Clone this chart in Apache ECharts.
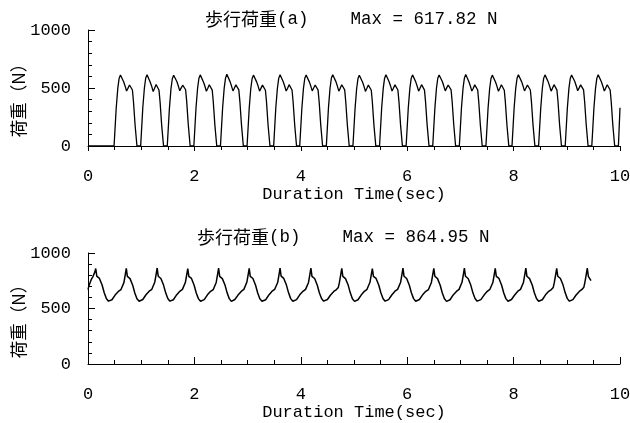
<!DOCTYPE html>
<html>
<head>
<meta charset="utf-8">
<script src="https://cdn.jsdelivr.net/npm/echarts@6/dist/echarts.min.js"></script>
<style>
  html, body { margin: 0; padding: 0; background: #fff; }
  #chart { width: 630px; height: 423px; }
</style>
</head>
<body>
<div id="chart"></div>
<script>
// Titles and axis text
const titleA = '歩行荷重';
const tagA = '(a)    Max = 617.82 N';
const titleB = '歩行荷重';
const tagB = '(b)    Max = 864.95 N';
const xAxisName = 'Duration Time(sec)';
const yAxisName = '荷重（N）';
const xTicks = [0, 2, 4, 6, 8, 10];
const yTicks = [0, 500, 1000];

// Walking load (a): single-foot contact force [time s, load N]
const loadA = [
  [0, 0],
  [0.49, 0], [0.53, 325], [0.56, 497], [0.585, 583], [0.61, 612], [0.645, 601], [0.67, 554], [0.695, 520], [0.725, 474], [0.75, 497], [0.78, 526], [0.81, 532], [0.835, 483], [0.855, 382], [0.885, 181], [0.92, 0],
  [0.99, 0], [1.03, 330], [1.06, 500], [1.085, 586], [1.11, 615], [1.145, 598], [1.17, 550], [1.195, 518], [1.225, 470], [1.25, 495], [1.28, 530], [1.31, 535], [1.335, 480], [1.355, 378], [1.385, 178], [1.42, 0],
  [1.49, 0], [1.53, 322], [1.56, 495], [1.585, 580], [1.61, 610], [1.645, 603], [1.67, 556], [1.695, 522], [1.725, 476], [1.75, 499], [1.78, 524], [1.81, 530], [1.835, 485], [1.855, 385], [1.885, 184], [1.92, 0],
  [1.99, 0], [2.03, 328], [2.06, 498], [2.085, 584], [2.11, 613], [2.145, 600], [2.17, 552], [2.195, 519], [2.225, 472], [2.25, 496], [2.28, 528], [2.31, 534], [2.335, 482], [2.355, 380], [2.385, 180], [2.42, 0],
  [2.49, 0], [2.53, 326], [2.56, 499], [2.585, 585], [2.61, 617.82], [2.645, 602], [2.67, 555], [2.695, 521], [2.725, 475], [2.75, 498], [2.78, 527], [2.81, 533], [2.835, 484], [2.855, 383], [2.885, 182], [2.92, 0],
  [2.99, 0], [3.03, 324], [3.06, 496], [3.085, 582], [3.11, 611], [3.145, 599], [3.17, 553], [3.195, 520], [3.225, 473], [3.25, 497], [3.28, 525], [3.31, 531], [3.335, 481], [3.355, 381], [3.385, 179], [3.42, 0],
  [3.49, 0], [3.53, 327], [3.56, 498], [3.585, 583], [3.61, 614], [3.645, 601], [3.67, 554], [3.695, 519], [3.725, 474], [3.75, 496], [3.78, 529], [3.81, 535], [3.835, 483], [3.855, 384], [3.885, 183], [3.92, 0],
  [3.98, 0], [4.02, 325], [4.05, 497], [4.075, 584], [4.10, 612], [4.135, 600], [4.16, 553], [4.185, 521], [4.215, 475], [4.24, 498], [4.27, 526], [4.30, 532], [4.325, 482], [4.345, 381], [4.375, 180], [4.41, 0],
  [4.48, 0], [4.52, 329], [4.55, 500], [4.575, 586], [4.60, 615], [4.635, 602], [4.66, 555], [4.685, 520], [4.715, 473], [4.74, 497], [4.77, 528], [4.80, 534], [4.825, 484], [4.845, 382], [4.875, 181], [4.91, 0],
  [4.98, 0], [5.02, 323], [5.05, 496], [5.075, 581], [5.10, 610], [5.135, 599], [5.16, 552], [5.185, 518], [5.215, 471], [5.24, 495], [5.27, 525], [5.30, 531], [5.325, 481], [5.345, 379], [5.375, 178], [5.41, 0],
  [5.48, 0], [5.52, 327], [5.55, 499], [5.575, 585], [5.60, 614], [5.635, 601], [5.66, 554], [5.685, 520], [5.715, 474], [5.74, 498], [5.77, 527], [5.80, 533], [5.825, 483], [5.845, 383], [5.875, 182], [5.91, 0],
  [5.98, 0], [6.02, 326], [6.05, 497], [6.075, 583], [6.10, 613], [6.135, 600], [6.16, 553], [6.185, 519], [6.215, 473], [6.24, 497], [6.27, 529], [6.30, 535], [6.325, 482], [6.345, 380], [6.375, 180], [6.41, 0],
  [6.48, 0], [6.52, 324], [6.55, 498], [6.575, 584], [6.60, 612], [6.635, 602], [6.66, 556], [6.685, 521], [6.715, 475], [6.74, 499], [6.77, 526], [6.80, 532], [6.825, 484], [6.845, 384], [6.875, 183], [6.91, 0],
  [6.98, 0], [7.02, 328], [7.05, 500], [7.075, 585], [7.10, 616], [7.135, 601], [7.16, 554], [7.185, 520], [7.215, 474], [7.24, 496], [7.27, 527], [7.30, 533], [7.325, 483], [7.345, 382], [7.375, 181], [7.41, 0],
  [7.48, 0], [7.52, 325], [7.55, 496], [7.575, 582], [7.60, 611], [7.635, 599], [7.66, 552], [7.685, 518], [7.715, 472], [7.74, 496], [7.77, 528], [7.80, 534], [7.825, 481], [7.845, 380], [7.875, 179], [7.91, 0],
  [7.97, 0], [8.01, 327], [8.04, 499], [8.065, 584], [8.09, 614], [8.125, 601], [8.15, 555], [8.175, 521], [8.205, 475], [8.23, 498], [8.26, 526], [8.29, 532], [8.315, 483], [8.335, 383], [8.365, 182], [8.40, 0],
  [8.47, 0], [8.51, 326], [8.54, 498], [8.565, 583], [8.59, 613], [8.625, 600], [8.65, 553], [8.675, 519], [8.705, 473], [8.73, 497], [8.76, 529], [8.79, 535], [8.815, 482], [8.835, 381], [8.865, 180], [8.90, 0],
  [8.97, 0], [9.01, 324], [9.04, 497], [9.065, 582], [9.09, 612], [9.125, 602], [9.15, 556], [9.175, 521], [9.205, 476], [9.23, 499], [9.26, 527], [9.29, 533], [9.315, 484], [9.335, 384], [9.365, 183], [9.40, 0],
  [9.47, 0], [9.51, 327], [9.54, 499], [9.565, 585], [9.59, 615], [9.625, 601], [9.65, 554], [9.675, 520], [9.705, 474], [9.73, 497], [9.76, 528], [9.79, 534], [9.815, 483], [9.835, 382], [9.865, 181], [9.90, 0],
  [9.97, 0], [10.0, 330]
];

// Walking load (b): overlapping footsteps [time s, load N]
const loadB = [
  [0, 670], [0.015, 700], [0.03, 690], [0.06, 760], [0.09, 785], [0.115, 800], [0.13, 830], [0.145, 860],
  [0.157, 822], [0.165, 792], [0.175, 803], [0.19, 782], [0.215, 771], [0.235, 760], [0.265, 712], [0.305, 642], [0.345, 590], [0.385, 566],
  [0.41, 564], [0.45, 579], [0.51, 621], [0.57, 654], [0.62, 671], [0.64, 681], [0.655, 689], [0.675, 733], [0.70, 803], [0.72, 862], [0.732, 818], [0.74, 789], [0.75, 801], [0.765, 779], [0.79, 769], [0.81, 758], [0.84, 709], [0.88, 639], [0.92, 588], [0.96, 565],
  [0.99, 567], [1.03, 581], [1.09, 624], [1.15, 656], [1.20, 673], [1.22, 683], [1.235, 691], [1.255, 737], [1.28, 806], [1.30, 864.95], [1.312, 821], [1.32, 791], [1.33, 802], [1.345, 781], [1.37, 770], [1.39, 760], [1.42, 711], [1.46, 641], [1.50, 590], [1.54, 566],
  [1.565, 565], [1.605, 579], [1.665, 622], [1.725, 655], [1.775, 672], [1.795, 681], [1.81, 690], [1.83, 734], [1.855, 804], [1.875, 860], [1.887, 819], [1.895, 790], [1.905, 800], [1.92, 780], [1.945, 771], [1.965, 759], [1.995, 710], [2.035, 640], [2.075, 589], [2.115, 565],
  [2.145, 566], [2.185, 580], [2.245, 623], [2.305, 655], [2.355, 671], [2.375, 682], [2.39, 689], [2.41, 735], [2.435, 805], [2.455, 863], [2.467, 820], [2.475, 789], [2.485, 801], [2.50, 780], [2.525, 769], [2.545, 759], [2.575, 712], [2.615, 641], [2.655, 589], [2.695, 564],
  [2.72, 565], [2.76, 581], [2.82, 621], [2.88, 654], [2.93, 672], [2.95, 681], [2.965, 690], [2.985, 736], [3.01, 803], [3.03, 861], [3.042, 818], [3.05, 790], [3.06, 800], [3.075, 779], [3.10, 770], [3.12, 758], [3.15, 709], [3.19, 640], [3.23, 588], [3.27, 565],
  [3.30, 566], [3.34, 579], [3.40, 622], [3.46, 656], [3.51, 673], [3.53, 682], [3.545, 691], [3.565, 734], [3.59, 804], [3.61, 863], [3.622, 821], [3.63, 791], [3.64, 802], [3.655, 781], [3.68, 771], [3.70, 760], [3.73, 711], [3.77, 641], [3.81, 589], [3.85, 565],
  [3.88, 564], [3.92, 580], [3.98, 623], [4.04, 655], [4.09, 672], [4.11, 682], [4.125, 689], [4.145, 735], [4.17, 805], [4.19, 864], [4.202, 820], [4.21, 790], [4.22, 800], [4.235, 780], [4.26, 770], [4.28, 759], [4.31, 710], [4.35, 640], [4.39, 590], [4.43, 566],
  [4.46, 566], [4.50, 581], [4.56, 622], [4.62, 654], [4.67, 671], [4.69, 681], [4.705, 690], [4.725, 733], [4.75, 803], [4.77, 862], [4.782, 819], [4.79, 789], [4.80, 801], [4.815, 779], [4.84, 769], [4.86, 758], [4.89, 711], [4.93, 641], [4.97, 588], [5.01, 564],
  [5.035, 565], [5.075, 579], [5.135, 621], [5.195, 655], [5.245, 673], [5.265, 683], [5.28, 691], [5.30, 736], [5.325, 806], [5.345, 860], [5.357, 818], [5.365, 790], [5.375, 800], [5.39, 781], [5.415, 771], [5.435, 760], [5.465, 712], [5.505, 642], [5.545, 590], [5.585, 566],
  [5.61, 565], [5.65, 580], [5.71, 622], [5.77, 656], [5.82, 672], [5.84, 682], [5.855, 690], [5.875, 734], [5.90, 804], [5.92, 863], [5.932, 821], [5.94, 791], [5.95, 802], [5.965, 780], [5.99, 770], [6.01, 759], [6.04, 710], [6.08, 640], [6.12, 589], [6.16, 565],
  [6.19, 566], [6.23, 581], [6.29, 623], [6.35, 655], [6.40, 671], [6.42, 681], [6.435, 689], [6.455, 735], [6.48, 805], [6.50, 862], [6.512, 819], [6.52, 790], [6.53, 801], [6.545, 779], [6.57, 769], [6.59, 758], [6.62, 709], [6.66, 639], [6.70, 588], [6.74, 564],
  [6.765, 565], [6.805, 579], [6.865, 622], [6.925, 654], [6.975, 672], [6.995, 682], [7.01, 690], [7.03, 736], [7.055, 804], [7.075, 864], [7.087, 820], [7.095, 791], [7.105, 802], [7.12, 781], [7.145, 770], [7.165, 760], [7.195, 711], [7.235, 641], [7.275, 590], [7.315, 566],
  [7.345, 566], [7.385, 580], [7.445, 621], [7.505, 655], [7.555, 673], [7.575, 683], [7.59, 691], [7.61, 734], [7.635, 803], [7.655, 861], [7.667, 818], [7.675, 789], [7.685, 800], [7.70, 780], [7.725, 771], [7.745, 759], [7.775, 710], [7.815, 640], [7.855, 589], [7.895, 565],
  [7.92, 564], [7.96, 581], [8.02, 622], [8.08, 656], [8.13, 672], [8.15, 681], [8.165, 689], [8.185, 735], [8.21, 805], [8.23, 863], [8.242, 821], [8.25, 790], [8.26, 801], [8.275, 779], [8.30, 769], [8.32, 758], [8.35, 712], [8.39, 642], [8.43, 590], [8.47, 565],
  [8.50, 565], [8.54, 579], [8.60, 623], [8.66, 655], [8.71, 671], [8.73, 682], [8.745, 690], [8.765, 733], [8.79, 804], [8.81, 862], [8.822, 819], [8.83, 791], [8.84, 802], [8.855, 780], [8.88, 770], [8.90, 760], [8.93, 711], [8.97, 641], [9.01, 589], [9.05, 566],
  [9.075, 566], [9.115, 580], [9.175, 622], [9.235, 654], [9.285, 672], [9.305, 682], [9.32, 691], [9.34, 736], [9.365, 806], [9.385, 864], [9.397, 820], [9.405, 790], [9.415, 801], [9.43, 776], [9.455, 752]
];

const MONO = '"Liberation Mono", "DejaVu Sans Mono", monospace';
const CJK = '"Noto Sans CJK JP", sans-serif';
const INK = '#000';

function titleBlock(main, tag, left, top) {
  return {
    text: '{j|' + main + '}{m|' + tag + '}',
    left: left,
    top: top,
    padding: 0,
    textStyle: {
      fontWeight: 'normal',
      rich: {
        j: { fontFamily: CJK, fontSize: 18, fontWeight: 'normal', color: INK, lineHeight: 20 },
        m: { fontFamily: MONO, fontSize: 17.5, fontWeight: 'normal', color: INK, lineHeight: 20 }
      }
    }
  };
}

function xAxisFor(gridIndex, tickInside, nameGap) {
  return {
    type: 'value',
    gridIndex: gridIndex,
    min: xTicks[0],
    max: xTicks[xTicks.length - 1],
    interval: xTicks[1] - xTicks[0],
    name: xAxisName,
    nameLocation: 'middle',
    nameGap: nameGap,
    nameTextStyle: { fontFamily: MONO, fontSize: 17, color: INK },
    axisLine: { show: true, onZero: false, lineStyle: { color: INK, width: 1 } },
    axisTick: { show: true, inside: tickInside, length: tickInside ? 7 : 5, lineStyle: { color: INK } },
    minorTick: { show: true, splitNumber: 4, length: 4, lineStyle: { color: INK } },
    axisLabel: { fontFamily: MONO, fontSize: 17, color: INK, margin: 22 },
    splitLine: { show: false },
    minorSplitLine: { show: false }
  };
}

function yAxisFor(gridIndex) {
  return {
    type: 'value',
    gridIndex: gridIndex,
    min: yTicks[0],
    max: yTicks[yTicks.length - 1],
    interval: yTicks[1] - yTicks[0],
    axisLine: { show: true, onZero: false, lineStyle: { color: INK, width: 1 } },
    axisTick: { show: true, inside: true, length: 7, lineStyle: { color: INK } },
    minorTick: { show: true, splitNumber: 5, length: 4, lineStyle: { color: INK } },
    axisLabel: {
      fontFamily: MONO, fontSize: 17, color: INK, margin: 17,
      formatter: function (v) { return String(v); }
    },
    splitLine: { show: false },
    minorSplitLine: { show: false }
  };
}

// Vertical axis caption, rotated to read bottom-to-top
function yCaption(cx, cy) {
  return {
    type: 'text',
    x: cx,
    y: cy,
    rotation: Math.PI / 2,
    silent: true,
    style: {
      text: yAxisName,
      font: '17.5px "Noto Sans CJK JP", sans-serif',
      fill: INK,
      align: 'center',
      verticalAlign: 'middle'
    }
  };
}

const chart = echarts.init(document.getElementById('chart'), null, { renderer: 'canvas' });

chart.setOption({
  animation: false,
  backgroundColor: '#fff',
  title: [
    titleBlock(titleA, tagA, 205, 9),
    titleBlock(titleB, tagB, 197, 227)
  ],
  grid: [
    { left: 88, top: 30, width: 532, height: 116, containLabel: false, outerBoundsMode: 'none' },
    { left: 88, top: 253, width: 532, height: 111, containLabel: false, outerBoundsMode: 'none' }
  ],
  xAxis: [xAxisFor(0, false, 40), xAxisFor(1, true, 36)],
  yAxis: [yAxisFor(0), yAxisFor(1)],
  graphic: [yCaption(18, 96), yCaption(18, 317)],
  series: [
    {
      type: 'line', xAxisIndex: 0, yAxisIndex: 0, data: loadA,
      showSymbol: false, symbol: 'none', clip: true,
      lineStyle: { color: INK, width: 1.3 }
    },
    {
      type: 'line', xAxisIndex: 1, yAxisIndex: 1, data: loadB,
      showSymbol: false, symbol: 'none', clip: true,
      lineStyle: { color: INK, width: 1.5 }
    }
  ]
});
</script>
</body>
</html>
